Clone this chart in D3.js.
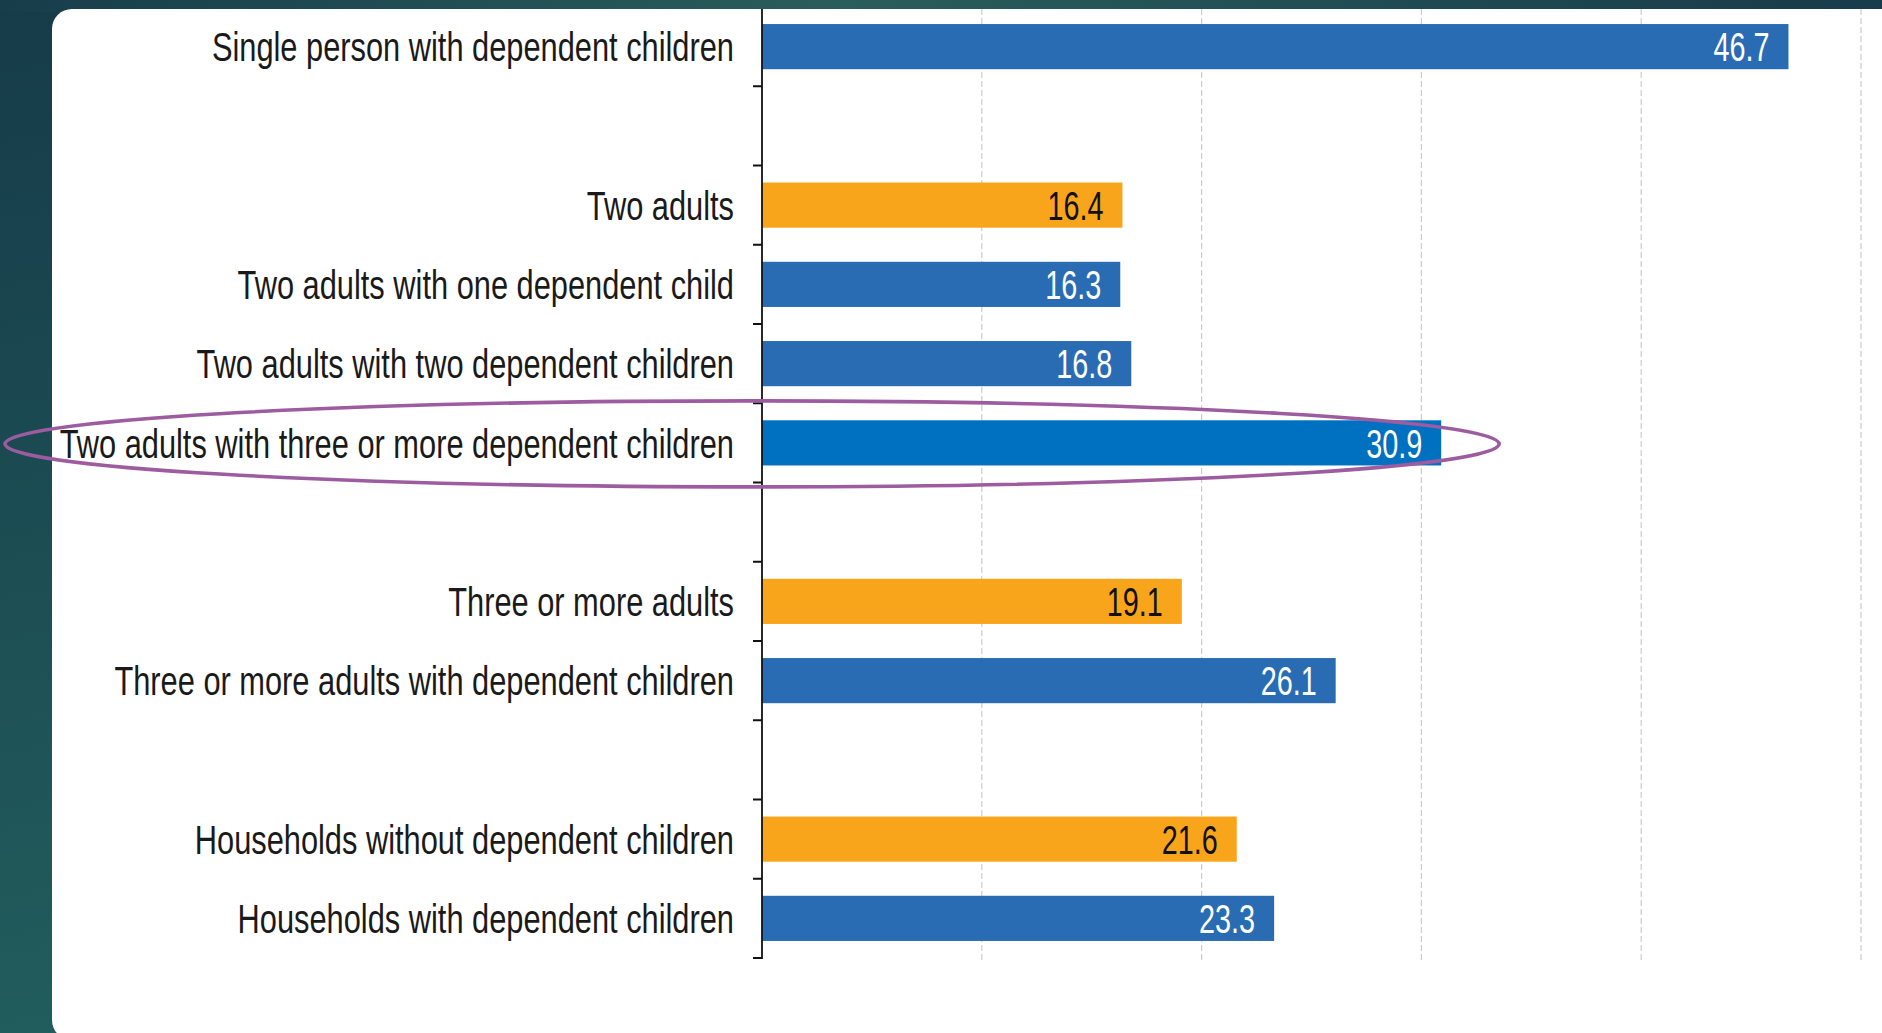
<!DOCTYPE html>
<html lang="en">
<head>
<meta charset="UTF-8">
<title>Households</title>
<script src="https://d3js.org/d3.v7.min.js"></script>
<style>
  html, body { margin: 0; padding: 0; background: #1b4550; overflow: hidden; }
</style>
</head>
<body>
<svg id="chart" width="1882" height="1033"></svg>
<script>
    // rows from top to bottom, null = empty spacer row
    var categories = [
        "Single person with dependent children",
        null,
        "Two adults",
        "Two adults with one dependent child",
        "Two adults with two dependent children",
        "Two adults with three or more dependent children",
        null,
        "Three or more adults",
        "Three or more adults with dependent children",
        null,
        "Households without dependent children",
        "Households with dependent children"
    ];
    var values = [46.7, null, 16.4, 16.3, 16.8, 30.9, null, 19.1, 26.1, null, 21.6, 23.3];
    var groups = ["kids", null, "adults", "kids", "kids", "focus", null, "adults", "kids", null, "adults", "kids"];
    var gridTicks = [10, 20, 30, 40, 50];

    var colors = { kids: "#2a6cb3", adults: "#f8a51c", focus: "#0070c0" };
    var textColors = { kids: "#ffffff", adults: "#111111", focus: "#ffffff" };

    // narrow look: Arial-metric font squeezed sideways
    var font = "'Liberation Sans', Arial, sans-serif";

    var svg = d3.select("#chart");
    var defs = svg.append("defs");

    // background
    var bg = defs.append("linearGradient").attr("id", "bg")
        .attr("x1", 0).attr("y1", 0).attr("x2", 0.35).attr("y2", 1);
    bg.append("stop").attr("offset", 0).attr("stop-color", "#163b49");
    bg.append("stop").attr("offset", 1).attr("stop-color", "#23615f");
    var topBg = defs.append("linearGradient").attr("id", "topbg")
        .attr("x1", 0).attr("y1", 0).attr("x2", 1).attr("y2", 0);
    topBg.append("stop").attr("offset", 0).attr("stop-color", "#173d4a");
    topBg.append("stop").attr("offset", 0.45).attr("stop-color", "#2a5d5b");
    topBg.append("stop").attr("offset", 1).attr("stop-color", "#173b4a");

    svg.append("rect").attr("width", 1882).attr("height", 1033).attr("fill", "url(#bg)");
    svg.append("rect").attr("width", 1882).attr("height", 12).attr("fill", "url(#topbg)");

    // white panel
    svg.append("rect")
        .attr("x", 52).attr("y", 9)
        .attr("width", 1900).attr("height", 1031)
        .attr("rx", 20).attr("ry", 20)
        .attr("fill", "#ffffff");

    var x = d3.scaleLinear().domain([0, 50]).range([762, 1861]);
    var y = d3.scaleBand().domain(d3.range(categories.length)).range([7, 958]);
    var step = y.bandwidth();
    var barH = step * 0.57;

    // dashed grid
    svg.selectAll("line.grid")
        .data(gridTicks)
        .enter().append("line")
        .attr("class", "grid")
        .attr("x1", function(d) { return x(d); })
        .attr("x2", function(d) { return x(d); })
        .attr("y1", 9)
        .attr("y2", 960)
        .attr("stroke", "#cccccc")
        .attr("stroke-width", 1.2)
        .attr("stroke-dasharray", "6,3");

    // bars
    var rows = d3.range(categories.length).filter(function(i) { return values[i] != null; });

    svg.selectAll("rect.bar")
        .data(rows)
        .enter().append("rect")
        .attr("class", "bar")
        .attr("x", x(0))
        .attr("y", function(i) { return y(i) + (step - barH) / 2; })
        .attr("width", function(i) { return x(values[i]) - x(0); })
        .attr("height", barH)
        .attr("fill", function(i) { return colors[groups[i]]; });

    // value labels inside bars
    svg.selectAll("text.val")
        .data(rows)
        .enter().append("text")
        .attr("class", "val")
        .attr("transform", function(i) {
            return "translate(" + (x(values[i]) - 19) + "," + (y(i) + step / 2) + ") scale(0.72,1)";
        })
        .attr("dy", "0.37em")
        .attr("text-anchor", "end")
        .attr("font-family", font)
        .attr("font-size", 40)
        .attr("fill", function(i) { return textColors[groups[i]]; })
        .text(function(i) { return values[i].toFixed(1); });

    // category labels
    svg.selectAll("text.cat")
        .data(rows)
        .enter().append("text")
        .attr("class", "cat")
        .attr("transform", function(i) {
            return "translate(" + (x(0) - 28) + "," + (y(i) + step / 2) + ") scale(0.77,1)";
        })
        .attr("dy", "0.37em")
        .attr("text-anchor", "end")
        .attr("font-family", font)
        .attr("font-size", 40)
        .attr("fill", "#1a1a1a")
        .text(function(i) { return categories[i]; });

    // axis line and ticks between rows
    svg.append("line")
        .attr("x1", x(0)).attr("x2", x(0))
        .attr("y1", 9).attr("y2", 959)
        .attr("stroke", "#111").attr("stroke-width", 1.8);

    svg.selectAll("line.tick")
        .data(d3.range(categories.length))
        .enter().append("line")
        .attr("class", "tick")
        .attr("x1", x(0) - 9).attr("x2", x(0))
        .attr("y1", function(i) { return y(i) + step; })
        .attr("y2", function(i) { return y(i) + step; })
        .attr("stroke", "#111").attr("stroke-width", 2);

    // highlight ellipse round the focus row
    var fi = groups.indexOf("focus");
    var left = 5, right = x(values[fi]) + 58;
    svg.append("ellipse")
        .attr("cx", (left + right) / 2)
        .attr("cy", y(fi) + step / 2 + 1)
        .attr("rx", (right - left) / 2)
        .attr("ry", 43)
        .attr("fill", "none")
        .attr("stroke", "#9c5c9f")
        .attr("stroke-width", 3.6);
</script>
</body>
</html>
